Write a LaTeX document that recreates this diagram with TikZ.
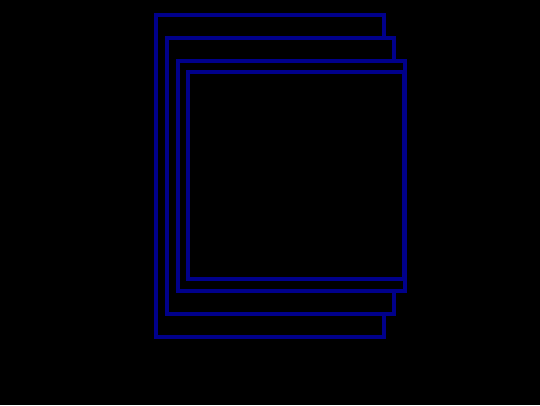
\documentclass[tikz,border=0pt]{standalone}
\begin{document}
\begin{tikzpicture}[x=1pt,y=-1pt,
  frame/.style={draw={rgb,255:red,0;green,0;blue,139},fill=black,line width=4pt}]
\fill[black] (0,0) rectangle (540,405);
\useasboundingbox (0,0) rectangle (540,405);
\draw[frame] (156,14.5) rectangle (383.5,337);
\draw[frame] (166.5,38) rectangle (394,314);
\draw[frame] (177.5,61.3) rectangle (404.5,291);
\draw[frame] (188,71.5) rectangle (404,279);
\end{tikzpicture}
\end{document}
